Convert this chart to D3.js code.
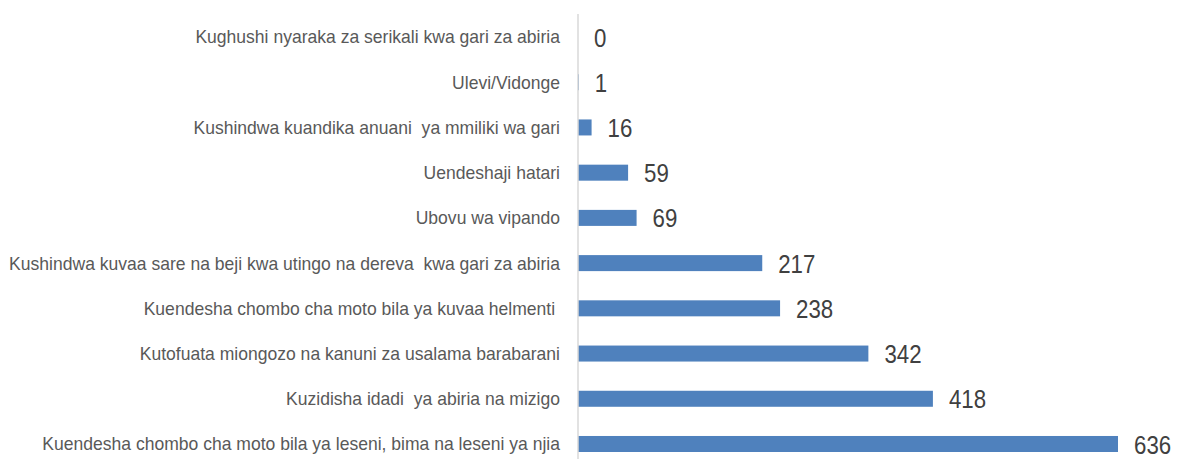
<!DOCTYPE html>
<html>
<head>
<meta charset="utf-8">
<script src="https://cdn.jsdelivr.net/npm/d3@7"></script>
<style>
  body { margin: 0; background: #fff; }
  svg text { font-family: "Liberation Sans", Arial, sans-serif; white-space: pre; }
</style>
</head>
<body>
<div id="chart"></div>
<script>
// Données du graphique (de haut en bas)
const categories = [
    "Kughushi nyaraka za serikali kwa gari za abiria",
    "Ulevi/Vidonge",
    "Kushindwa kuandika anuani  ya mmiliki wa gari",
    "Uendeshaji hatari",
    "Ubovu wa vipando",
    "Kushindwa kuvaa sare na beji kwa utingo na dereva  kwa gari za abiria",
    "Kuendesha chombo cha moto bila ya kuvaa helmenti ",
    "Kutofuata miongozo na kanuni za usalama barabarani",
    "Kuzidisha idadi  ya abiria na mizigo",
    "Kuendesha chombo cha moto bila ya leseni, bima na leseni ya njia"
];
const values = [0, 1, 16, 59, 69, 217, 238, 342, 418, 636];

// Configuration
const width = 1180;
const height = 459;
const x0 = 578;

const svg = d3.select("#chart")
    .append("svg")
    .attr("width", width)
    .attr("height", height);

const xScale = d3.scaleLinear().domain([0, 636]).range([x0, 1118]);
const yScale = d3.scaleBand()
    .domain(categories)
    .range([14.4, 466.6])
    .paddingInner(0.646)
    .paddingOuter(0.323);

const yMid = i => yScale(categories[i]) + yScale.bandwidth() / 2;

// Barres
svg.selectAll(".bar")
    .data(values)
    .enter()
    .append("rect")
    .attr("class", "bar")
    .attr("x", xScale(0))
    .attr("y", (d, i) => yScale(categories[i]))
    .attr("width", d => xScale(d) - xScale(0))
    .attr("height", yScale.bandwidth())
    .attr("fill", "#4f81bd");

// Ligne de l'axe vertical
svg.append("line")
    .attr("x1", x0).attr("x2", x0)
    .attr("y1", 14).attr("y2", 467)
    .attr("stroke", "#d9d9d9")
    .attr("stroke-width", 1.5);

// Libellés des catégories (police étroite simulée)
svg.selectAll(".label")
    .data(categories)
    .enter()
    .append("text")
    .attr("class", "label")
    .attr("transform", (d, i) => `translate(${x0 - 18},${yMid(i)}) scale(0.975,1)`)
    .attr("dy", "0.36em")
    .attr("text-anchor", "end")
    .style("font-size", "18px")
    .attr("fill", "#595959")
    .text(d => d);

// Étiquettes de valeurs
svg.selectAll(".value")
    .data(values)
    .enter()
    .append("text")
    .attr("class", "value")
    .attr("transform", (d, i) => `translate(${xScale(d) + 16},${yMid(i)}) scale(0.84,1)`)
    .attr("dy", "0.36em")
    .style("font-size", "26.5px")
    .attr("fill", "#404040")
    .text(d => d);
</script>
</body>
</html>
